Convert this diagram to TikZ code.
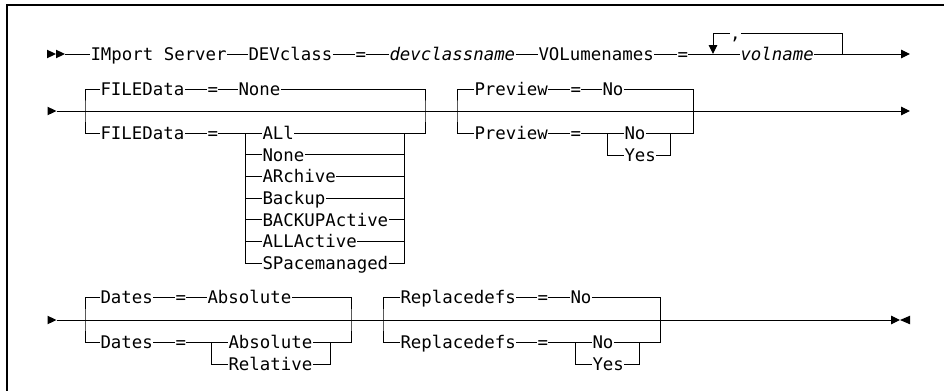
\documentclass[tikz,border=0pt]{standalone}
\usepackage{fontspec}
\newfontfamily\railfont{DejaVu Sans Mono}
\usetikzlibrary{arrows.meta}
\tikzset{
  >={Triangle[length=9pt,width=8.6pt]},
  frame/.style={line width=1.8pt},
  kw/.style={font={\railfont\fontsize{17.4pt}{20pt}\selectfont}, inner sep=0pt,
    anchor=west, text height=12.7pt, text depth=0pt},
  varname/.style={kw, font={\railfont\fontsize{17.4pt}{20pt}\selectfont\itshape}},
}
\newcommand{\railhead}[2]{\fill (#1,#2-4.3) -- (#1+9,#2) -- (#1,#2+4.3) -- cycle;}

\begin{document}
\begin{tikzpicture}[x=1pt, y=-1pt, line width=1pt]
\useasboundingbox (0,0) rectangle (944,391);
\draw[frame] (944,5) -- (7,5) -- (7,391);

% first line: command, device class, volumes
\railhead{47}{54}\railhead{56}{54}
\coordinate (r1s) at (65,54);
\node[kw] (imp) at (90,54) {IMport Server};
\node[kw] (devc) at (248,54) {DEVclass};
\node[kw] (eqa) at (355,54) {=};
\node[varname] (dcn) at (389,54) {devclassname};
\node[kw] (voln) at (538,54) {VOLumenames};
\node[kw] (eqb) at (677,54) {=};
\node[varname] (volnm) at (740,54) {volname};
\node[kw] (comma) at (729.5,33) {,};
\coordinate (loopL) at (713,54);
\coordinate (loopR) at (842,54);
\coordinate (r1e) at (910,54);
\draw (r1s) -- (imp) -- (devc) -- (eqa) -- (dcn) -- (voln) -- (eqb) -- (volnm);
\draw[->] (volnm) -- (r1e);
\draw[->] (comma) -| (loopL);
\draw (comma) -| (loopR);

% second line: FILEData and Preview
\railhead{47.5}{111}
\coordinate (r2s) at (56.5,111);
\coordinate (r2e) at (910,111);
\draw[->] (r2s) -- (r2e);
\node[kw] (fdA) at (100,89) {FILEData};
\node[kw] (eqfA) at (207,89) {=};
\node[kw] (fnA) at (238,89) {None};
\node[kw] (fdB) at (100,133) {FILEData};
\node[kw] (eqfB) at (207,133) {=};
\coordinate (fL) at (85,111);
\coordinate (fR) at (425,111);
\coordinate (oL) at (245,133);
\coordinate (oR) at (404,133);
\foreach \t [count=\i] in {ALl,None,ARchive,Backup,BACKUPActive,ALLActive,SPacemanaged}
  \node[kw] (o\i) at (262,{133+(\i-1)*21.67}) {\t};
\draw (fdA) -| (fL) |- (fdB) -- (eqfB) -- (o1) -- (oR);
\draw (fdA) -- (eqfA) -- (fnA) -| (fR) |- (oR);
\draw (oL) |- (o7) -| (oR);
\foreach \i in {2,...,6}
  \draw (oL |- o\i) -- (o\i) -- (oR |- o\i);

\node[kw] (pvA) at (474,89) {Preview};
\node[kw] (eqpA) at (570,89) {=};
\node[kw] (pnA) at (602,89) {No};
\node[kw] (pvB) at (474,133) {Preview};
\node[kw] (eqpB) at (570,133) {=};
\node[kw] (pnB) at (624,133) {No};
\node[kw] (pyB) at (624,155) {Yes};
\coordinate (pL) at (457,111);
\coordinate (pR) at (693,111);
\coordinate (pbL) at (607,133);
\coordinate (pbR) at (670,133);
\draw (pvA) -| (pL) |- (pvB) -- (eqpB) -- (pnB) -- (pbR);
\draw (pvA) -- (eqpA) -- (pnA) -| (pR) |- (pbR);
\draw (pbL) |- (pyB) -| (pbR);

% third line: Dates and Replacedefs
\railhead{47.5}{320}
\coordinate (r3s) at (56.5,320);
\coordinate (r3e) at (900,320);
\draw[->] (r3s) -- (r3e);
\fill (910,315.7) -- (900,320) -- (910,324.3) -- cycle;
\node[kw] (dtA) at (100,297) {Dates};
\node[kw] (eqdA) at (175,297) {=};
\node[kw] (daA) at (207,297) {Absolute};
\node[kw] (dtB) at (100,342) {Dates};
\node[kw] (eqdB) at (175,342) {=};
\node[kw] (daB) at (228,342) {Absolute};
\node[kw] (drB) at (228,364) {Relative};
\coordinate (dL) at (85,320);
\coordinate (dR) at (351,320);
\coordinate (dbL) at (211,342);
\coordinate (dbR) at (330,342);
\draw (dtA) -| (dL) |- (dtB) -- (eqdB) -- (daB) -- (dbR);
\draw (dtA) -- (eqdA) -- (daA) -| (dR) |- (dbR);
\draw (dbL) |- (drB) -| (dbR);

\node[kw] (rpA) at (400,297) {Replacedefs};
\node[kw] (eqrA) at (537,297) {=};
\node[kw] (rnA) at (570,297) {No};
\node[kw] (rpB) at (400,342) {Replacedefs};
\node[kw] (eqrB) at (537,342) {=};
\node[kw] (rnB) at (592,342) {No};
\node[kw] (ryB) at (592,364) {Yes};
\coordinate (rL) at (383,320);
\coordinate (rR) at (660,320);
\coordinate (rbL) at (575,342);
\coordinate (rbR) at (639,342);
\draw (rpA) -| (rL) |- (rpB) -- (eqrB) -- (rnB) -- (rbR);
\draw (rpA) -- (eqrA) -- (rnA) -| (rR) |- (rbR);
\draw (rbL) |- (ryB) -| (rbR);
\end{tikzpicture}
\end{document}
